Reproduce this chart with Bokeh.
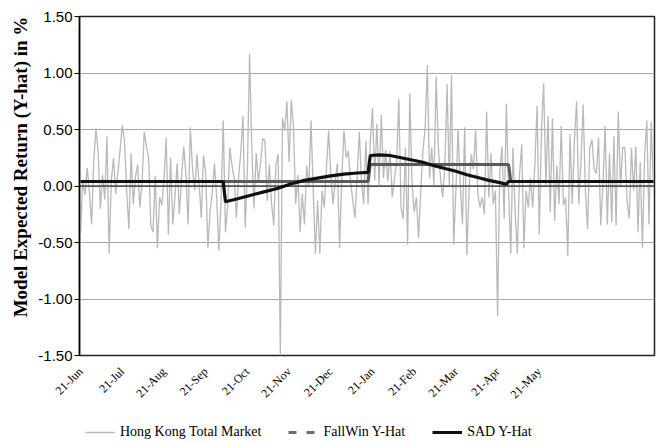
import math
import numpy as np
from bokeh.plotting import figure
from bokeh.layouts import column
from bokeh.models import Range1d, FixedTicker, Span, Legend, LegendItem, NumeralTickFormatter
from bokeh.embed import file_html
from bokeh.resources import INLINE

# Hong Kong Total Market daily return (%), trading days from 21-Jun
market = [
    -0.42, 0.05, -0.08, 0.16, -0.05, -0.34, 0.22, 0.51, 0.30, -0.20,
    0.10, -0.12, 0.44, -0.60, 0.05, 0.25, -0.07, 0.12, 0.32, 0.54,
    0.40, -0.04, -0.38, 0.29, -0.16, 0.08, 0.19, -0.19, 0.02, 0.48,
    0.35, 0.25, -0.35, -0.41, 0.09, -0.55, -0.10, -0.17, 0.06, 0.43,
    -0.43, 0.25, -0.34,
    -0.10, 0.20, -0.25, 0.08, 0.35, 0.10, -0.34, 0.52, 0.15, -0.04,
    0.28, 0.02, -0.28, 0.27, 0.12, -0.55, -0.23, -0.05, 0.20, -0.10,
    -0.57, -0.13, 0.58, -0.41, -0.17, 0.34, 0.18, 0.07, -0.28, 0.08,
    0.30, 0.62, -0.37, 0.15, 1.17, 0.34, -0.20, 0.29, 0.04, 0.20,
    0.42, 0.40, -0.13, 0.19,
    -0.15, -0.35, 0.19, 0.28, -1.50, 0.60, 0.49, 0.75, 0.21, 0.76,
    0.52, -0.16, 0.10, -0.41, -0.07, -0.34, 0.18, -0.01, 0.58, -0.04,
    -0.60, -0.13, -0.60, -0.04, -0.19, 0.15, 0.49, 0.10, -0.16, 0.03,
    0.20, -0.55, 0.07, 0.49, 0.25, 0.31, 0.05, -0.13, -0.28, 0.07,
    0.48, 0.04, -0.16, 0.40,
    -0.16, 0.39, 0.69, 0.05, 0.55, 0.01, 0.63, 0.07, 0.32, 0.04,
    0.31, -0.10, 0.07, 0.20, 0.77, -0.19, -0.29, 0.34, -0.52, 0.82,
    0.04, -0.23, -0.10, -0.46, -0.04, 0.31, 0.52, 1.07, 0.07, 0.34,
    0.01, 0.97, 0.34, 0.07, -0.10, 0.20, 0.90, 0.01, 0.98, -0.52,
    -0.04, 0.50, 0.01,
    -0.34, 0.52, -0.61, -0.04, 0.28, 0.15, 0.50, -0.07, -0.19, -0.10,
    -0.25, 0.66, -0.10, 0.29, -0.16, -0.04, -1.15, 0.13, 0.35, -0.29,
    0.73, -0.04, -0.60, 0.34, -0.23, -0.60, 0.10, 0.37, -0.55, -0.04,
    -0.19, 0.07, -0.19, 0.19, 0.71, -0.43, 0.49, 0.91, 0.01, 0.62,
    -0.23, 0.60, -0.31, 0.18,
    -0.16, 0.53, -0.17, -0.10, -0.62, 0.46, -0.16, 0.40, 0.75, -0.16,
    0.21, 0.72, -0.04, -0.38, 0.34, 0.41, 0.15, 0.11, 0.43, -0.35,
    0.01, 0.53, -0.34, 0.29, -0.32, 0.44, -0.35, 0.66, -0.01, 0.34,
    0.34, -0.13, -0.29, 0.34, -0.04, 0.35, -0.41, 0.21, -0.55, 0.27,
    0.58, -0.34, 0.57, 0.01,
]

# FallWin Y-Hat (trading-day index, value)
fallwin_idx = [0, 131, 132, 195, 196, 261]
fallwin_val = [0.04, 0.04, 0.19, 0.19, 0.04, 0.04]

# SAD Y-Hat (trading-day index, value)
sad_idx = [0, 65, 66, 72, 78, 84, 90, 96, 102, 108, 114, 120, 126, 131,
           132, 136, 141, 146, 151, 156, 161, 166, 171, 176, 181, 186, 191, 194, 195, 261]
sad_val = [0.04, 0.04, -0.14, -0.11, -0.08, -0.05, -0.02, 0.02, 0.05, 0.07, 0.09, 0.105, 0.115, 0.12,
           0.27, 0.275, 0.27, 0.25, 0.23, 0.21, 0.18, 0.155, 0.13, 0.10, 0.075, 0.05, 0.03, 0.015, 0.04, 0.04]

tick_pos = [0, 19, 38, 57, 76, 95, 114, 133, 152, 171, 190, 209]
tick_labels = ["21-Jun", "21-Jul", "21-Aug", "21-Sep", "21-Oct", "21-Nov",
               "21-Dec", "21-Jan", "21-Feb", "21-Mar", "21-Apr", "21-May"]
y_ticks = [-1.5, -1.0, -0.5, 0.0, 0.5, 1.0, 1.5]
series_names = ["Hong Kong Total Market", "FallWin Y-Hat", "SAD Y-Hat"]

N = len(market)
days = list(range(N))

p = figure(frame_width=575, frame_height=339, output_backend="svg", toolbar_location=None,
           x_range=Range1d(-0.5, N - 0.5), y_range=Range1d(-1.5, 1.5),
           min_border_left=79, min_border_top=16, min_border_right=8, min_border_bottom=69)
p.background_fill_color = "white"
p.border_fill_color = "white"
p.outline_line_color = "#222222"
p.outline_line_width = 1.5

p.xgrid.visible = False
p.ygrid.ticker = FixedTicker(ticks=y_ticks)
p.ygrid.grid_line_color = "#a8a8a8"
p.ygrid.grid_line_width = 1

# y axis
p.yaxis.ticker = FixedTicker(ticks=y_ticks)
p.yaxis.formatter = NumeralTickFormatter(format="0.00")
p.yaxis.axis_label = "\u00a0" * 8 + "Model Expected Return (Y-hat) in %"
p.yaxis.axis_label_text_font = "Liberation Serif"
p.yaxis.axis_label_text_font_style = "bold"
p.yaxis.axis_label_text_font_size = "19px"
p.yaxis.axis_label_text_color = "black"
p.yaxis.axis_label_standoff = 4
p.yaxis.major_label_text_font = "Liberation Sans"
p.yaxis.major_label_text_font_size = "15px"
p.yaxis.major_label_text_color = "black"
p.yaxis.major_label_standoff = 2
p.yaxis.major_tick_in = 0
p.yaxis.major_tick_out = 5
p.yaxis.minor_tick_line_color = None
p.yaxis.axis_line_color = "black"
p.yaxis.axis_line_width = 1.5
p.yaxis.major_tick_line_color = "black"

# x axis
p.xaxis.ticker = FixedTicker(ticks=tick_pos)
p.xaxis.major_label_overrides = {t: l for t, l in zip(tick_pos, tick_labels)}
p.xaxis.major_label_orientation = math.pi / 4
p.xaxis.major_label_text_font = "Liberation Serif"
p.xaxis.major_label_text_font_size = "12px"
p.xaxis.major_label_text_color = "black"
p.xaxis.major_label_standoff = 8
p.xaxis.major_tick_line_color = None
p.xaxis.minor_tick_line_color = None
p.xaxis.axis_line_color = None

p.add_layout(Span(location=0, dimension="width", line_color="black", line_width=1))

p.line(days, market, line_color="#b9b9b9", line_width=1.3)
p.line(fallwin_idx, fallwin_val, line_color="#5a5a5a", line_width=3)
p.line(sad_idx, sad_val, line_color="#111111", line_width=3.2)

# legend strip below the chart
lf = figure(width=662, height=16, output_backend="svg", toolbar_location=None,
            x_range=Range1d(0, 1), y_range=Range1d(0, 1),
            x_axis_location=None, y_axis_location=None,
            min_border_left=0, min_border_right=0, min_border_top=0, min_border_bottom=0)
lf.outline_line_color = None
lf.grid.visible = False
lf.background_fill_color = "white"
lf.border_fill_color = "white"
l_mkt = lf.line([5, 6], [5, 6], line_color="#b9b9b9", line_width=1.5)
l_fw = lf.line([5, 6], [5, 6], line_color="#6e6e6e", line_width=3, line_dash="8 10")
l_sad = lf.line([5, 6], [5, 6], line_color="#111111", line_width=3)

legend = Legend(items=[
    LegendItem(label=series_names[0], renderers=[l_mkt]),
    LegendItem(label=series_names[1], renderers=[l_fw]),
    LegendItem(label=series_names[2], renderers=[l_sad]),
], orientation="horizontal", location=(6, 0))
legend.border_line_color = None
legend.background_fill_alpha = 0
legend.label_text_font = "Liberation Serif"
legend.label_text_font_size = "14px"
legend.label_text_color = "black"
legend.glyph_width = 30
legend.glyph_height = 16
legend.label_height = 16
legend.label_standoff = 5
legend.spacing = 27
legend.padding = 0
legend.margin = 0
lf.add_layout(legend, "center")

layout = column(p, lf, spacing=0)
open("out.html", "w").write(file_html(layout, INLINE))
